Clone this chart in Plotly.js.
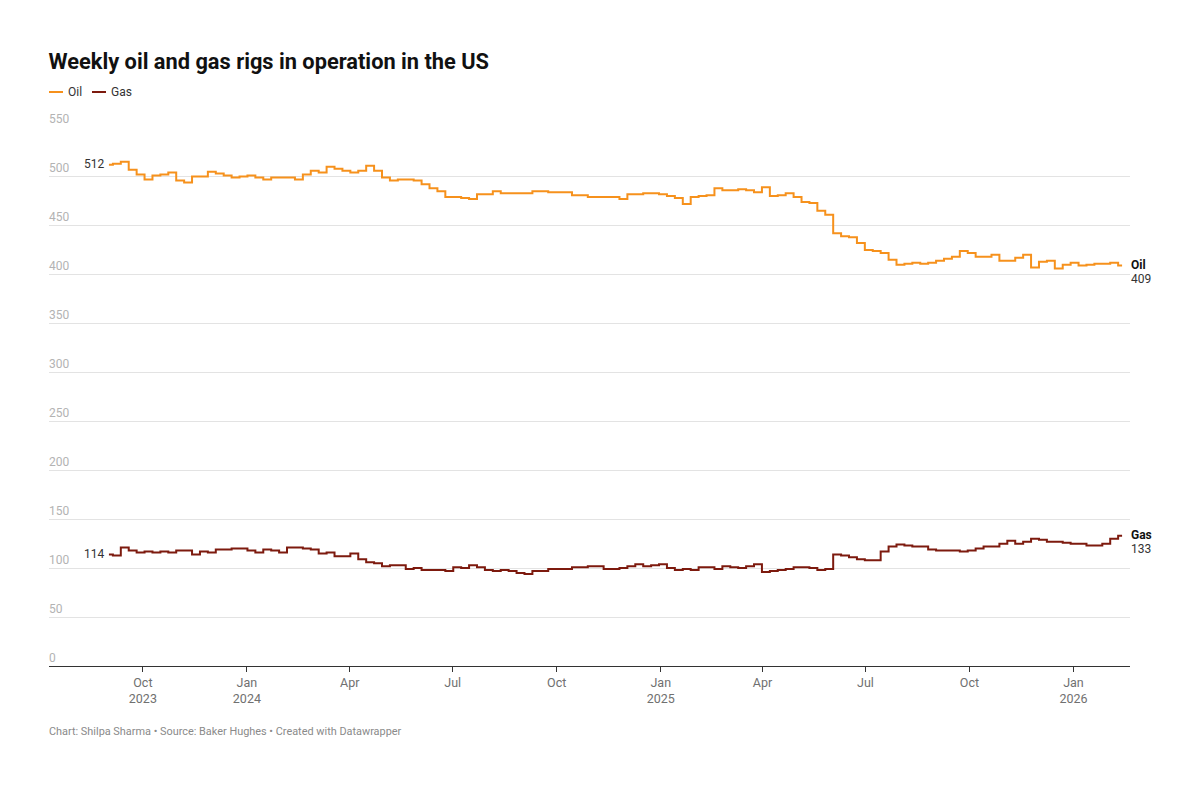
<!DOCTYPE html>
<html>
<head>
<meta charset="utf-8">
<script src="https://cdn.plot.ly/plotly-3.0.1.min.js"></script>
<style>
html,body{margin:0;padding:0;background:#fff;}
#chart{width:1200px;height:788px;}
</style>
</head>
<body>
<div id="chart"></div>
<script>
// Weekly data, first week ending 2023-09-01
var startDate = '2023-09-01';
var oil = [512,513,515,507,502,497,501,502,504,496,494,500,500,505,503,501,499,500,501,499,
497,499,499,499,497,502,506,504,510,508,506,504,506,511,506,499,496,497,497,496,
492,488,485,479,479,478,477,482,482,485,483,483,483,483,485,485,484,484,484,481,
481,479,479,479,479,477,482,482,483,483,482,480,478,472,479,480,481,488,486,486,
487,486,484,489,480,481,483,479,474,473,465,461,442,439,438,432,425,424,422,415,
410,411,412,411,412,414,416,418,424,422,418,418,420,414,414,417,420,407,413,414,
406,410,412,409,410,411,411,412,409];
var gas = [114,113,121,118,116,117,116,117,116,118,118,114,117,116,119,119,120,120,118,116,
119,118,116,121,121,120,119,115,116,112,112,115,109,106,105,102,103,103,99,100,
98,98,98,97,101,100,103,101,98,97,98,97,95,94,97,97,99,99,99,101,
101,102,102,99,99,100,102,104,102,103,104,100,98,99,98,101,101,99,102,101,
100,102,104,96,97,98,99,101,101,100,98,99,114,113,111,109,108,108,117,122,
124,123,122,122,119,118,118,118,117,118,120,122,122,125,128,125,127,130,129,127,
127,126,125,125,123,123,125,130,133];
var seriesNames = ['Oil','Gas'];
var tickDates = ['2023-10-01','2024-01-01','2024-04-01','2024-07-01','2024-10-01','2025-01-01','2025-04-01','2025-07-01','2025-10-01','2026-01-01'];
var tickLabels = ['Oct<br>2023','Jan<br>2024','Apr','Jul','Oct','Jan<br>2025','Apr','Jul','Oct','Jan<br>2026'];
var yTicks = [0,50,100,150,200,250,300,350,400,450,500,550];

var oilColor = '#f6911c';
var gasColor = '#7d1a0e';

var dates = [];
(function(){
  var d0 = new Date(startDate + 'T00:00:00Z');
  for (var i = 0; i < oil.length; i++) {
    var d = new Date(d0.getTime() + i*7*86400000);
    dates.push(d.toISOString().slice(0,10));
  }
})();

var traces = [
  {x: dates, y: oil, type:'scatter', mode:'lines', name:seriesNames[0], line:{color:oilColor, width:2, shape:'hvh'}, hoverinfo:'skip'},
  {x: dates, y: gas, type:'scatter', mode:'lines', name:seriesNames[1], line:{color:gasColor, width:2, shape:'hvh'}, hoverinfo:'skip'}
];

var n = oil.length - 1;
var font = 'Roboto, "Open Sans", sans-serif';
var PW = 1081, PH = 539; // plot area size in px
function px(x){ return (x-49)/PW; }
function py(y){ return (666-y)/PH; }

var annotations = [
  {xref:'x', yref:'y', x:dates[0], y:oil[0], text:String(oil[0]), showarrow:false, xanchor:'right', yanchor:'middle', xshift:-3, yshift:1, font:{family:font,size:12,color:'#333'}},
  {xref:'x', yref:'y', x:dates[0], y:gas[0], text:String(gas[0]), showarrow:false, xanchor:'right', yanchor:'middle', xshift:-3, font:{family:font,size:12,color:'#333'}},
  {xref:'x', yref:'y', x:dates[n], y:oil[n], text:'<b>'+seriesNames[0]+'</b>', showarrow:false, xanchor:'left', yanchor:'middle', xshift:7, yshift:1, font:{family:font,size:12,color:'#111'}},
  {xref:'x', yref:'y', x:dates[n], y:oil[n], text:String(oil[n]), showarrow:false, xanchor:'left', yanchor:'middle', xshift:7, yshift:-13, font:{family:font,size:12,color:'#333'}},
  {xref:'x', yref:'y', x:dates[n], y:gas[n], text:'<b>'+seriesNames[1]+'</b>', showarrow:false, xanchor:'left', yanchor:'middle', xshift:7, yshift:1, font:{family:font,size:12,color:'#111'}},
  {xref:'x', yref:'y', x:dates[n], y:gas[n], text:String(gas[n]), showarrow:false, xanchor:'left', yanchor:'middle', xshift:7, yshift:-13, font:{family:font,size:12,color:'#333'}},
  {xref:'paper', yref:'paper', x:px(66), y:py(92), text:seriesNames[0], showarrow:false, xanchor:'left', yanchor:'middle', font:{family:font,size:12,color:'#333'}},
  {xref:'paper', yref:'paper', x:px(109), y:py(92), text:seriesNames[1], showarrow:false, xanchor:'left', yanchor:'middle', font:{family:font,size:12,color:'#333'}},
  {xref:'paper', yref:'paper', x:px(47), y:py(731), text:'Chart: Shilpa Sharma \u2022 Source: Baker Hughes \u2022 Created with Datawrapper', showarrow:false, xanchor:'left', yanchor:'middle', font:{family:font,size:10.9,color:'#8a8a8a'}}
];

var shapes = [
  {type:'line', xref:'paper', yref:'paper', x0:px(49), x1:px(63), y0:py(92), y1:py(92), line:{color:oilColor, width:2}},
  {type:'line', xref:'paper', yref:'paper', x0:px(92), x1:px(106), y0:py(92), y1:py(92), line:{color:gasColor, width:2}}
];

var layout = {
  width:1200, height:788,
  margin:{l:49, r:70, t:127, b:122, pad:0},
  paper_bgcolor:'#fff', plot_bgcolor:'#fff',
  showlegend:false,
  title:{text:'<b>Weekly oil and gas rigs in operation in the US</b>', x:48.5/1200, xanchor:'left', xref:'container', y:1-61/788, yanchor:'middle', yref:'container', font:{family:font, size:21.8, color:'#111'}},
  xaxis:{type:'date', range:['2023-07-10','2026-02-20'], tickvals:tickDates, ticktext:tickLabels, ticks:'outside', ticklen:5, tickcolor:'#333', tickwidth:1,
    showgrid:false, showline:true, linecolor:'#333', linewidth:1, zeroline:false, tickfont:{family:font,size:12.5,color:'#707070'}, fixedrange:true},
  yaxis:{range:[0,550.6], tickvals:yTicks, ticks:'', ticklabelposition:'inside top', ticklabeloverflow:'allow', ticklabelstandoff:-3, showgrid:true, gridcolor:'#e3e3e3', gridwidth:1, zeroline:false, showline:false,
    tickfont:{family:font,size:12,color:'#b3b3b3'}, fixedrange:true},
  annotations: annotations,
  shapes: shapes
};

Plotly.newPlot('chart', traces, layout, {displayModeBar:false, staticPlot:true});
</script>
</body>
</html>
